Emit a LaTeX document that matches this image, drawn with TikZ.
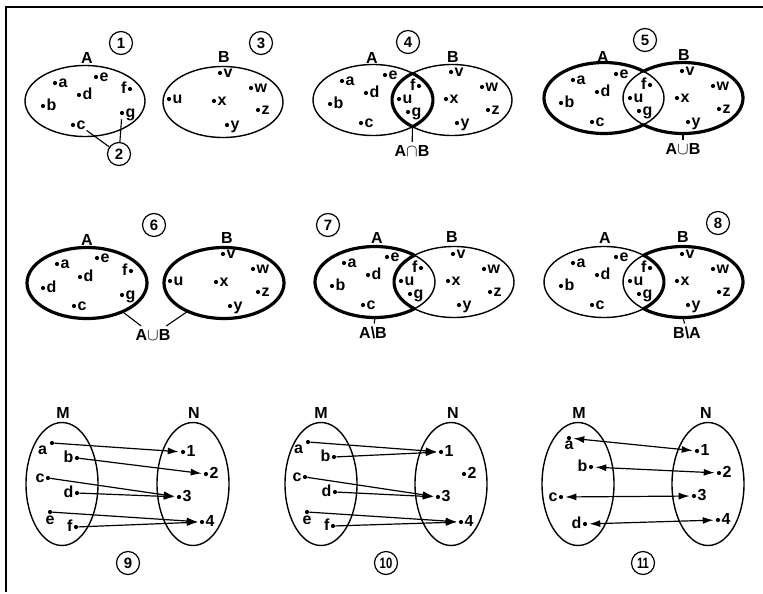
\documentclass[tikz,border=0pt]{standalone}
\usepackage{fontspec}
\setmainfont{Liberation Sans}
\usetikzlibrary{shapes.geometric,arrows.meta}

\begin{document}
\begin{tikzpicture}[x=1pt, y=-1pt,
  every node/.style={font=\fontsize{16}{18}\selectfont\bfseries},
  venn/.style={draw, ellipse, minimum width=120pt, minimum height=71pt, inner sep=0pt, outer sep=0pt, line width=1.4pt},
  heavy venn/.style={venn, line width=3.2pt},
  mn/.style={draw, ellipse, minimum width=72pt, minimum height=123pt, inner sep=0pt, outer sep=0pt, line width=1.4pt},
  elem/.style={circle, fill=black, inner sep=0pt, minimum size=4.2pt},
  every label/.style={inner sep=1pt, text height=8.4pt, text depth=0pt},
  tag/.style={draw, circle, minimum size=23pt, inner sep=0pt, line width=1.2pt, font=\fontsize{15}{15}\selectfont\bfseries},
  rim/.style={line width=3.2pt, line join=round},
  lead/.style={line width=1.1pt},
  mapto/.style={-{Latex[length=11pt,width=7pt]}, line width=1.2pt, shorten >=2pt},
  biject/.style={{Latex[length=11pt,width=7pt]}-{Latex[length=11pt,width=7pt]}, line width=1.2pt, shorten >=2pt, shorten <=2pt}]
  \useasboundingbox (0,0) rectangle (763,594);
  % page frame
  \draw[line width=1.6pt] (6,592) -- (6,7) -- (763,7);

  % 1, 2, 3: two separate sets
  \node[venn] (A1) at (85,101) {};
  \node[venn] (B1) at (223,102) {};
  \node (nA1) at (87,58) {A};
  \node (nB1) at (224,57) {B};
  \node[tag] (t1) at (121,43) {1};
  \node[tag] (t2) at (119,154) {2};
  \node[tag] (t3) at (261,43) {3};
  \node[elem, label=right:a] (a1) at (55,83) {};
  \node[elem, label=right:e] (e1) at (96,77) {};
  \node[elem, label=right:d] (d1) at (79,95) {};
  \node[elem, label=left:f] (f1) at (130,89) {};
  \node[elem, label=right:b] (b1) at (43,106) {};
  \node[elem, label=right:g] (g1) at (122,113) {};
  \node[elem, label={[name=c1t]right:c}] (c1) at (73,125) {};
  \node[elem, label=right:v] (v1) at (220,73) {};
  \node[elem, label=right:w] (w1) at (251,88) {};
  \node[elem, label=right:u] (u1) at (169,99) {};
  \node[elem, label=right:x] (x1) at (214,101) {};
  \node[elem, label=right:z] (z1) at (258,110) {};
  \node[elem, label=right:y] (y1) at (227,125) {};
  \draw[lead] (t2) -- (c1t.south east);
  \draw[lead, shorten >=4pt] (t2) -- (g1);

  % 4: intersection
  \node[venn] (A4) at (373,100) {};
  \node[venn] (B4) at (452,100) {};
  \draw[rim] (A4.center) ++(39.5,-26.73) arc[start angle=-48.83, end angle=48.83, x radius=60, y radius=35.5]
    arc[start angle=131.17, end angle=228.83, x radius=60, y radius=35.5] -- cycle;
  \node (nA4) at (372,58) {A};
  \node (nB4) at (453,57) {B};
  \node[tag] (t4) at (408,42) {4};
  \node[elem, label=right:a] (a4) at (342,81) {};
  \node[elem, label=right:e] (e4) at (385,75) {};
  \node[elem, label=right:d] (d4) at (366,93) {};
  \node[elem, label=right:b] (b4) at (330,104) {};
  \node[elem, label=right:c] (c4) at (361,123) {};
  \node[elem, label=left:f] (f4) at (419,86) {};
  \node[elem, label=right:u] (u4) at (399,99) {};
  \node[elem, label=right:g] (g4) at (408,112) {};
  \node[elem, label=right:v] (v4) at (451,72) {};
  \node[elem, label=right:w] (w4) at (482,87) {};
  \node[elem, label=right:x] (x4) at (446,99) {};
  \node[elem, label=right:z] (z4) at (488,110) {};
  \node[elem, label=right:y] (y4) at (457,123) {};
  \coordinate (P4) at (412.5,126.7);
  \node (AnB4) at (412,151) {A$\cap$B};
  \draw[lead] (P4) -- (AnB4);

  % 5: union
  \node[venn] (A5) at (604,98) {};
  \node[venn] (B5) at (683,98) {};
  \draw[rim] (A5.center) ++(39.5,26.73) arc[start angle=48.83, end angle=311.17, x radius=60, y radius=35.5]
    arc[start angle=228.83, end angle=491.17, x radius=60, y radius=35.5] -- cycle;
  \node (nA5) at (603,57) {A};
  \node (nB5) at (684,55) {B};
  \node[tag] (t5) at (645,40) {5};
  \node[elem, label=right:a] (a5) at (573,80) {};
  \node[elem, label=right:e] (e5) at (616,74) {};
  \node[elem, label=right:d] (d5) at (597,92) {};
  \node[elem, label=right:b] (b5) at (561,103) {};
  \node[elem, label=right:c] (c5) at (592,122) {};
  \node[elem, label=left:f] (f5) at (650,85) {};
  \node[elem, label=right:u] (u5) at (630,98) {};
  \node[elem, label=right:g] (g5) at (639,111) {};
  \node[elem, label=right:v] (v5) at (682,71) {};
  \node[elem, label=right:w] (w5) at (713,86) {};
  \node[elem, label=right:x] (x5) at (677,98) {};
  \node[elem, label=right:z] (z5) at (719,109) {};
  \node[elem, label=right:y] (y5) at (688,122) {};
  \node (AuB5) at (683,149) {A$\cup$B};
  \draw[lead] (B5.south) -- (AuB5);

  % 6: union of disjoint sets
  \node[heavy venn] (A6) at (87,283) {};
  \node[heavy venn] (B6) at (224,283) {};
  \node (nA6) at (87,240) {A};
  \node (nB6) at (227,238) {B};
  \node[tag] (t6) at (154,225) {6};
  \node[elem, label=right:a] (a6) at (57,264) {};
  \node[elem, label=right:e] (e6) at (97,258) {};
  \node[elem, label=right:d] (d6) at (80,277) {};
  \node[elem, label=left:f] (f6) at (131,271) {};
  \node[elem, label=right:d] (b6) at (43,288) {};
  \node[elem, label=right:g] (g6) at (122,295) {};
  \node[elem, label=right:c] (c6) at (74,306) {};
  \node[elem, label=right:v] (v6) at (223,254) {};
  \node[elem, label=right:w] (w6) at (253,269) {};
  \node[elem, label=right:u] (u6) at (170,281) {};
  \node[elem, label=right:x] (x6) at (216,282) {};
  \node[elem, label=right:z] (z6) at (258,292) {};
  \node[elem, label=right:y] (y6) at (230,306) {};
  \node (AuB6) at (153,335) {A$\cup$B};
  \draw[lead] (AuB6) -- (A6.-39);
  \draw[lead] (AuB6) -- (B6.-142);

  % 7: A without B
  \node[venn] (A7) at (375,282) {};
  \node[venn] (B7) at (454,282) {};
  \draw[rim] (A7.center) ++(39.5,26.73) arc[start angle=48.83, end angle=311.17, x radius=60, y radius=35.5]
    arc[start angle=228.83, end angle=131.17, x radius=60, y radius=35.5] -- cycle;
  \node (nA7) at (377,238) {A};
  \node (nB7) at (452,237) {B};
  \node[tag] (t7) at (328,225) {7};
  \node[elem, label=right:a] (a7) at (344,263) {};
  \node[elem, label=right:e] (e7) at (387,257) {};
  \node[elem, label=right:d] (d7) at (368,275) {};
  \node[elem, label=right:b] (b7) at (332,286) {};
  \node[elem, label=right:c] (c7) at (363,305) {};
  \node[elem, label=left:f] (f7) at (421,268) {};
  \node[elem, label=right:u] (u7) at (401,281) {};
  \node[elem, label=right:g] (g7) at (410,294) {};
  \node[elem, label=right:v] (v7) at (453,254) {};
  \node[elem, label=right:w] (w7) at (484,269) {};
  \node[elem, label=right:x] (x7) at (448,281) {};
  \node[elem, label=right:z] (z7) at (490,292) {};
  \node[elem, label=right:y] (y7) at (459,305) {};
  \node (AmB7) at (373,333) {A\textbackslash B};
  \draw[lead] (A7.south) -- (AmB7);

  % 8: B without A
  \node[venn] (A8) at (604,282) {};
  \node[venn] (B8) at (683,282) {};
  \draw[rim] (B8.center) ++(-39.5,26.73) arc[start angle=131.17, end angle=-131.17, x radius=60, y radius=35.5]
    arc[start angle=-48.83, end angle=48.83, x radius=60, y radius=35.5] -- cycle;
  \node (nA8) at (605,238) {A};
  \node (nB8) at (683,237) {B};
  \node[tag] (t8) at (718,223) {8};
  \node[elem, label=right:a] (a8) at (573,263) {};
  \node[elem, label=right:e] (e8) at (616,257) {};
  \node[elem, label=right:d] (d8) at (597,275) {};
  \node[elem, label=right:b] (b8) at (561,286) {};
  \node[elem, label=right:c] (c8) at (592,305) {};
  \node[elem, label=left:f] (f8) at (650,268) {};
  \node[elem, label=right:u] (u8) at (630,281) {};
  \node[elem, label=right:g] (g8) at (639,294) {};
  \node[elem, label=right:v] (v8) at (682,254) {};
  \node[elem, label=right:w] (w8) at (713,269) {};
  \node[elem, label=right:x] (x8) at (677,281) {};
  \node[elem, label=right:z] (z8) at (719,292) {};
  \node[elem, label=right:y] (y8) at (688,305) {};
  \node (BmA8) at (687,333) {B\textbackslash A};
  \draw[lead] (B8.south) -- (BmA8);

  % 9: mapping M -> N, onto
  \node[mn] (M9) at (62,484) {};
  \node[mn] (N9) at (193,484) {};
  \node (nM9) at (63,413) {M};
  \node (nN9) at (194,413) {N};
  \node[tag] (t9) at (128,563) {9};
  \node[elem, label={[label distance=2pt]210:a}] (a9) at (52,443) {};
  \node[elem, label=left:b] (b9) at (77,458) {};
  \node[elem, label=left:c] (c9) at (48,478) {};
  \node[elem, label=left:d] (d9) at (77,493) {};
  \node[elem, label={[label distance=1pt]below:e}] (e9) at (50,512) {};
  \node[elem, label=left:f] (f9) at (76,527) {};
  \node[elem, label=right:1] (N9-1) at (183,452) {};
  \node[elem, label=right:2] (N9-2) at (206,474) {};
  \node[elem, label=right:3] (N9-3) at (179,497) {};
  \node[elem, label=right:4] (N9-4) at (202,522) {};
  \draw[mapto] (a9) -- (N9-1);
  \draw[mapto] (b9) -- (N9-2);
  \draw[mapto] (c9) -- (N9-3);
  \draw[mapto] (d9) -- (N9-3);
  \draw[mapto] (e9) -- (N9-4);
  \draw[mapto] (f9) -- (N9-4);

  % 10: mapping M -> N, not onto
  \node[mn] (M10) at (321,484) {};
  \node[mn] (N10) at (451,484) {};
  \node (nM10) at (321,413) {M};
  \node (nN10) at (453,413) {N};
  \node[tag] (t10) at (386,563) {\scalebox{.75}[1]{10}};
  \node[elem, label={[label distance=2pt]210:a}] (a10) at (308,442) {};
  \node[elem, label=left:b] (b10) at (334,457) {};
  \node[elem, label=left:c] (c10) at (305,477) {};
  \node[elem, label=left:d] (d10) at (335,492) {};
  \node[elem, label={[label distance=1pt]below:e}] (e10) at (307,512) {};
  \node[elem, label=left:f] (f10) at (333,526) {};
  \node[elem, label=right:1] (N10-1) at (441,452) {};
  \node[elem, label=right:2] (N10-2) at (464,474) {};
  \node[elem, label=right:3] (N10-3) at (438,497) {};
  \node[elem, label=right:4] (N10-4) at (461,522) {};
  \draw[mapto] (a10) -- (N10-1);
  \draw[mapto] (b10) -- (N10-1);
  \draw[mapto] (c10) -- (N10-3);
  \draw[mapto] (d10) -- (N10-3);
  \draw[mapto] (e10) -- (N10-4);
  \draw[mapto] (f10) -- (N10-4);

  % 11: one-to-one
  \node[mn] (M11) at (578,484) {};
  \node[mn] (N11) at (708,484) {};
  \node (nM11) at (579,413) {M};
  \node (nN11) at (706,413) {N};
  \node[tag] (t11) at (643,563) {\scalebox{.75}[1]{11}};
  \node[elem, label={[label distance=0pt]below:a}] (a11) at (569,438) {};
  \node[elem, label=left:b] (b11) at (591,467) {};
  \node[elem, label=left:c] (c11) at (561,497) {};
  \node[elem, label=left:d] (d11) at (585,524) {};
  \node[elem, label=right:1] (N11-1) at (697,451) {};
  \node[elem, label=right:2] (N11-2) at (719,473) {};
  \node[elem, label=right:3] (N11-3) at (694,496) {};
  \node[elem, label=right:4] (N11-4) at (718,520) {};
  \draw[biject] (a11) -- (N11-1);
  \draw[biject] (b11) -- (N11-2);
  \draw[biject] (c11) -- (N11-3);
  \draw[biject] (d11) -- (N11-4);
\end{tikzpicture}
\end{document}
